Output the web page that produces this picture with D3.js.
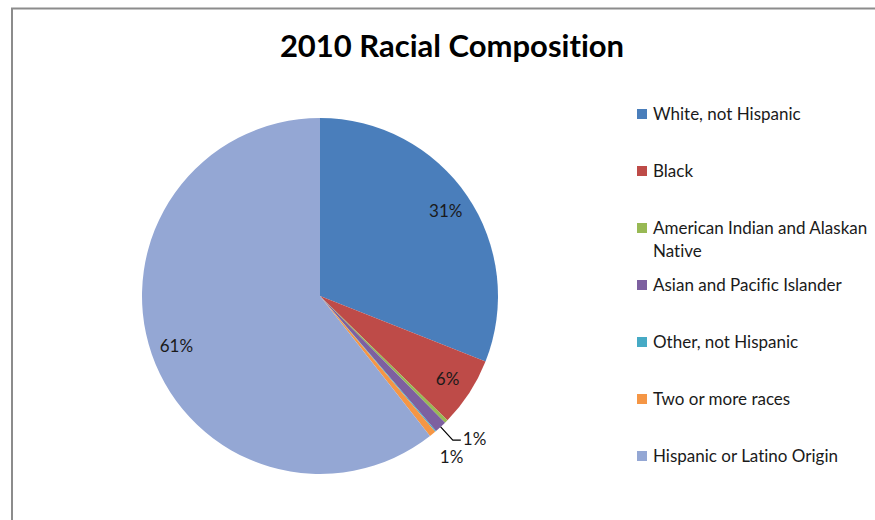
<!DOCTYPE html>
<html>
<head>
<meta charset="utf-8">
<script src="https://cdn.jsdelivr.net/npm/d3@7"></script>
<style>
  html, body { margin: 0; padding: 0; background: #fff; }
  svg { display: block; }
  text { font-variant-ligatures: none; font-feature-settings: "liga" 0, "clig" 0; }
</style>
</head>
<body>
<svg id="chart" width="875" height="520"></svg>
<script>
// 2010 racial composition, share of population (%)
const categories = [
  "White, not Hispanic",
  "Black",
  "American Indian and Alaskan Native",
  "Asian and Pacific Islander",
  "Other, not Hispanic",
  "Two or more races",
  "Hispanic or Latino Origin"
];
const shares = [31.0, 6.3, 0.3, 1.1, 0.1, 0.6, 60.6];
const colors = ["#4A7EBB", "#BE4B48", "#98B954", "#7D60A0", "#46AAC5", "#F59645", "#94A7D4"];
// legend text, split into lines as it wraps
const legendLines = [
  ["White, not Hispanic"],
  ["Black"],
  ["American Indian and Alaskan", "Native"],
  ["Asian and Pacific Islander"],
  ["Other, not Hispanic"],
  ["Two or more races"],
  ["Hispanic or Latino Origin"]
];
const title = "2010 Racial Composition";

const svg = d3.select("#chart");
const font = "Lato, 'Open Sans', sans-serif";

// outer frame of the chart area
svg.append("path")
  .attr("d", "M12,520 V8.5 H875")
  .attr("fill", "none")
  .attr("stroke", "#8c8c8c")
  .attr("stroke-width", 2);

svg.append("text")
  .attr("x", 452).attr("y", 57)
  .attr("text-anchor", "middle")
  .attr("font-family", font)
  .attr("font-weight", "bold")
  .attr("font-size", 31)
  .attr("fill", "#000")
  .text(title);

const cx = 320, cy = 296, r = 178;
const total = d3.sum(shares);
const data = categories.map((c, i) => ({ name: c, value: shares[i], color: colors[i], idx: i }));

const pie = d3.pie().value(d => d.value).sort(null);
const arcs = pie(data);
const arc = d3.arc().innerRadius(0).outerRadius(r);

const g = svg.append("g").attr("transform", `translate(${cx},${cy})`);
g.selectAll("path.slice")
  .data(arcs)
  .join("path")
  .attr("class", "slice")
  .attr("d", arc)
  .attr("fill", d => d.data.color);

// percentage labels, rounded to whole percent; zero-percent slices stay unlabelled
const pct = d => Math.round(d.data.value / total * 100);
const labelled = arcs.filter(d => pct(d) > 0);
const insideArc = d3.arc().innerRadius(152).outerRadius(152);
const leaderArc = d3.arc().innerRadius(196).outerRadius(196);
const rimArc = d3.arc().innerRadius(r).outerRadius(r);
const farArc = d3.arc().innerRadius(208).outerRadius(208);

const labelStyle = sel => sel
  .attr("font-family", font)
  .attr("font-size", 17)
  .attr("fill", "#1a1a1a");

labelled.forEach(d => {
  const share = d.endAngle - d.startAngle;
  if (share > 0.2) {
    const [x, y] = insideArc.centroid(d);
    g.append("text")
      .attr("x", x).attr("y", y + 6)
      .attr("text-anchor", "middle")
      .call(labelStyle)
      .text(pct(d) + "%");
  } else if (d.data.idx === 3) {
    // label moved outward with a leader line
    const [x0, y0] = rimArc.centroid(d);
    const [x1, y1] = leaderArc.centroid(d);
    g.append("polyline")
      .attr("points", `${x0},${y0} ${x1},${y1} ${x1 + 8},${y1}`)
      .attr("fill", "none")
      .attr("stroke", "#000")
      .attr("stroke-width", 1.2);
    g.append("text")
      .attr("x", x1 + 10).attr("y", y1 + 5)
      .call(labelStyle)
      .text(pct(d) + "%");
  } else {
    const [x, y] = farArc.centroid(d);
    g.append("text")
      .attr("x", x).attr("y", y + 6)
      .attr("text-anchor", "middle")
      .call(labelStyle)
      .text(pct(d) + "%");
  }
});

// legend
const legend = svg.append("g").attr("transform", "translate(637,114)");
const rows = legend.selectAll("g.item")
  .data(data)
  .join("g")
  .attr("class", "item")
  .attr("transform", (d, i) => `translate(0,${i * 57})`);
rows.append("rect")
  .attr("x", 0).attr("y", -5)
  .attr("width", 10).attr("height", 10)
  .attr("fill", d => d.color);
rows.append("text")
  .attr("x", 16).attr("y", 6)
  .attr("font-family", font)
  .attr("font-size", 17)
  .attr("fill", "#1a1a1a")
  .selectAll("tspan")
  .data(d => legendLines[d.idx])
  .join("tspan")
  .attr("x", 16)
  .attr("dy", (t, j) => j === 0 ? 0 : 23)
  .text(t => t);
</script>
</body>
</html>
